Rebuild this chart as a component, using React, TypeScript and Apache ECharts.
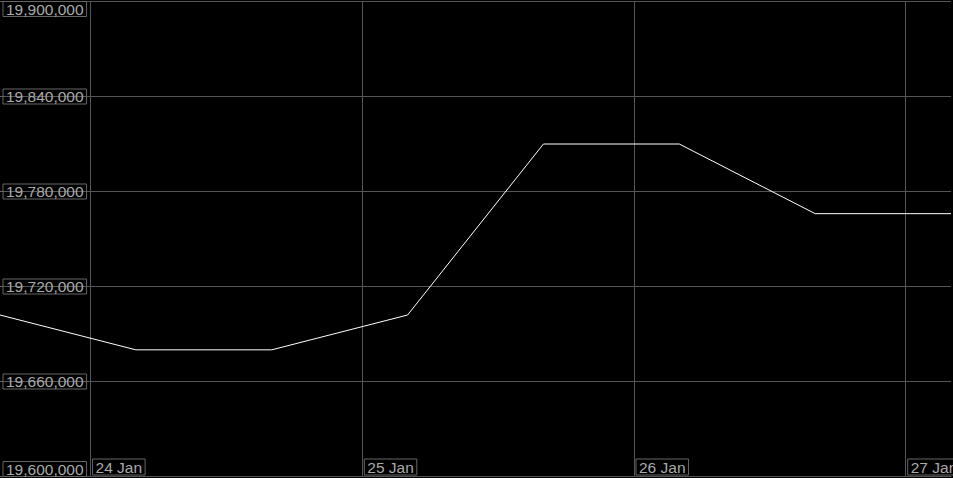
import React, { useEffect, useRef } from "react";
import * as echarts from "echarts";

// Observations: time (day, hour) and value
const pointTimes: string[] = [
  "2024-01-23T16:00", "2024-01-24T04:00", "2024-01-24T16:00", "2024-01-25T04:00",
  "2024-01-25T16:00", "2024-01-26T04:00", "2024-01-26T16:00", "2024-01-27T04:00",
];
const pointValues: number[] = [
  19702000, 19680000, 19680000, 19702000, 19810000, 19810000, 19766000, 19766000,
];
// x-axis category slots (4-hour steps), labels at midnights
const slotTimes: string[] = [];
(() => {
  const start = new Date(2024, 0, 23, 16).getTime();
  for (let i = 0; i < 22; i++) {
    const d = new Date(start + i * 4 * 3600 * 1000);
    const pad = (n: number) => (n < 10 ? "0" + n : "" + n);
    slotTimes.push(`${d.getFullYear()}-${pad(d.getMonth() + 1)}-${pad(d.getDate())}T${pad(d.getHours())}:00`);
  }
})();
const monthNames: string[] = ["Jan", "Feb", "Mar", "Apr", "May", "Jun", "Jul", "Aug", "Sep", "Oct", "Nov", "Dec"];
const yMin = 19600000;
const yMax = 19900000;
const yStep = 60000;

export default function App() {
  const ref = useRef<HTMLDivElement>(null);
  useEffect(() => {
    document.body.style.margin = "0";
    document.body.style.background = "#000";
    const chart = echarts.init(ref.current!, undefined, { renderer: "svg" });
    const seriesData = slotTimes.map((t) => {
      const k = pointTimes.indexOf(t);
      return k >= 0 ? pointValues[k] : null;
    });
    const isMidnight = (v: string) => v.endsWith("T00:00");
    const font = "'Liberation Sans', Arial, sans-serif";
    const fs = 15.5;
    chart.setOption({
      animation: false,
      backgroundColor: "#000",
      grid: {
        left: 0, right: 2, top: 1.5, bottom: 1.5,
        containLabel: false,
        outerBoundsMode: "none",
      },
      xAxis: {
        type: "category",
        data: slotTimes,
        boundaryGap: false,
        axisLine: { show: true, lineStyle: { color: "#555", width: 1 } },
        axisTick: { show: false },
        splitLine: {
          show: true,
          interval: (_i: number, v: string) => isMidnight(v),
          lineStyle: { color: "#555", width: 1 },
        },
        axisLabel: {
          show: true,
          inside: true,
          hideOverlap: false,
          interval: (_i: number, v: string) => isMidnight(v),
          formatter: (v: string) => {
            const d = parseInt(v.slice(8, 10), 10);
            const m = parseInt(v.slice(5, 7), 10) - 1;
            return `{b|${d} ${monthNames[m]}}`;
          },
          align: "left",
          verticalAlign: "bottom",
          margin: 2,
          padding: [0, 0, 0, 2],
          rich: {
            b: {
              color: "#aaa",
              fontSize: fs,
              fontFamily: font,
              lineHeight: 15,
              borderColor: "#666",
              borderWidth: 1,
              padding: [0, 3, 0, 3],
            },
          },
        },
      },
      yAxis: {
        type: "value",
        min: yMin,
        max: yMax,
        interval: yStep,
        axisLine: { show: false },
        axisTick: { show: true, inside: true, length: 3, lineStyle: { color: "#666" } },
        splitLine: { show: true, lineStyle: { color: "#555", width: 1 } },
        axisLabel: {
          show: true,
          inside: true,
          hideOverlap: false,
          margin: 3,
          formatter: (v: number) => v.toLocaleString("en-US"),
          color: "#aaa",
          fontSize: fs,
          fontFamily: font,
          lineHeight: 15,
          borderColor: "#666",
          borderWidth: 1,
          padding: [0, 3, 0, 3],
          verticalAlignMinLabel: "bottom",
          verticalAlignMaxLabel: "top",
        },
      },
      series: [
        {
          type: "line",
          data: seriesData,
          connectNulls: true,
          symbol: "none",
          lineStyle: { color: "#fff", width: 1 },
          itemStyle: { color: "#fff" },
        },
      ],
    });
    return () => chart.dispose();
  }, []);
  return <div ref={ref} style={{ width: 953, height: 478, background: "#000" }} />;
}
